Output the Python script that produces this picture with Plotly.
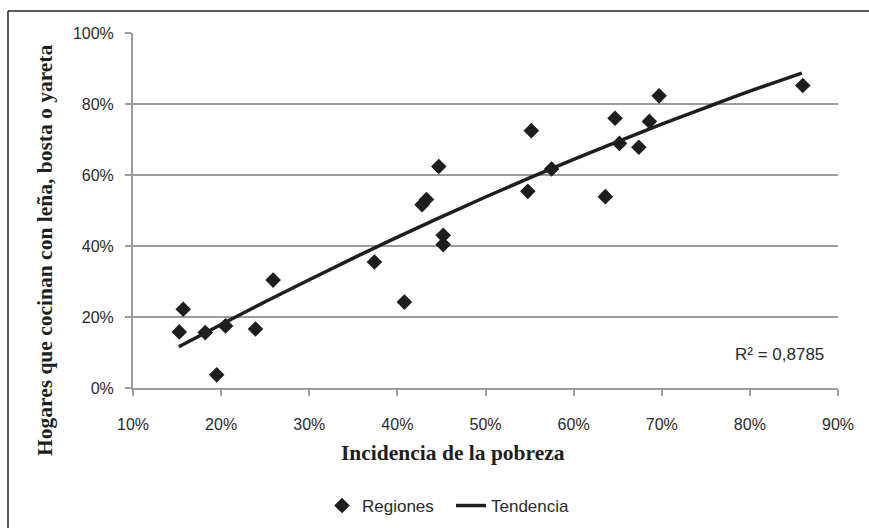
import plotly.graph_objects as go

# Data (percent)
pobreza = [15.25, 15.7, 18.2, 20.5, 19.5, 23.9, 25.9, 37.4, 40.8, 42.8, 43.3, 44.7,
           45.2, 45.2, 54.8, 55.2, 57.5, 63.6, 64.7, 65.2, 67.4, 68.6, 69.7, 86.0]
hogares = [15.8, 22.2, 15.6, 17.5, 3.7, 16.6, 30.4, 35.5, 24.2, 51.6, 53.1, 62.4,
           43.0, 40.4, 55.4, 72.5, 61.7, 53.9, 76.0, 68.9, 67.8, 75.1, 82.3, 85.2]

# Trend line
trend_x = [15.2, 20, 25, 30, 35, 40, 45, 50, 55, 60, 65, 70, 75, 80, 85.9]
trend_y = [11.6, 17.9, 24.3, 30.5, 36.6, 42.5, 48.2, 53.8, 59.2, 64.4, 69.4, 74.3, 79.0, 83.6, 88.7]

x_ticks = [10, 20, 30, 40, 50, 60, 70, 80, 90]
x_ticktext = [f"{v}%" for v in x_ticks]
y_ticks = [0, 20, 40, 60, 80, 100]
y_ticktext = [f"{v}%" for v in y_ticks]

r2_text = "R² = 0,8785"
x_title = "Incidencia de la pobreza"
y_title = "Hogares que cocinan con leña, bosta o yareta"

W, H = 869, 528
L, R, T, B = 133, 31, 33, 140
pw, ph = W - L - R, H - T - B

def px(x):
    return (x - L) / pw

def py(y):
    return (H - B - y) / ph

grid = "#9c9c9c"
ink = "#1e1e1e"
txt = "#2a2a2a"

fig = go.Figure()
fig.add_trace(go.Scatter(
    x=pobreza, y=hogares, mode="markers", name="Regiones",
    marker=dict(symbol="diamond", size=12, color=ink, line=dict(width=0)),
))
fig.add_trace(go.Scatter(
    x=trend_x, y=trend_y, mode="lines", name="Tendencia",
    line=dict(color=ink, width=3.5, shape="spline"),
))

fig.update_layout(
    width=W, height=H,
    margin=dict(l=L, r=R, t=T, b=B, autoexpand=False),
    paper_bgcolor="white", plot_bgcolor="white",
    font=dict(family="Liberation Sans, Arial, sans-serif", size=16, color=txt),
    showlegend=True,
    legend=dict(orientation="h", x=px(451), xanchor="center", y=py(506), yanchor="middle",
                font=dict(size=17, color=txt), itemwidth=30, tracegroupgap=0,
                entrywidth=84, entrywidthmode="pixels"),
    xaxis=dict(range=[10, 90], tickvals=x_ticks, ticktext=x_ticktext,
               showgrid=False, zeroline=False, showline=True, linecolor=grid, linewidth=2,
               ticks="outside", ticklen=6, tickwidth=2, tickcolor=grid,
               ticklabelstandoff=15, tickfont=dict(size=16, color=txt)),
    yaxis=dict(range=[0, 100], tickvals=y_ticks, ticktext=y_ticktext,
               showgrid=True, gridcolor=grid, gridwidth=2, zeroline=False,
               showline=True, linecolor=grid, linewidth=2,
               ticks="outside", ticklen=6, tickwidth=2, tickcolor=grid,
               ticklabelstandoff=8, tickfont=dict(size=16, color=txt)),
    annotations=[
        dict(text=r2_text, x=px(826), y=py(354), xref="paper", yref="paper",
             xanchor="right", yanchor="middle", showarrow=False,
             font=dict(size=17, color=txt)),
        dict(text=f"<b>{x_title}</b>", x=px(453), y=py(453), xref="paper", yref="paper",
             xanchor="center", yanchor="middle", showarrow=False,
             font=dict(family="Liberation Serif, Times New Roman, serif", size=21.5, color=ink)),
        dict(text=f"<b>{y_title}</b>", x=px(45), y=py(250), xref="paper", yref="paper",
             xanchor="center", yanchor="middle", showarrow=False, textangle=-90,
             font=dict(family="Liberation Serif, Times New Roman, serif", size=21.5, color=ink)),
    ],
    shapes=[
        dict(type="line", xref="paper", yref="paper", x0=px(8), x1=px(869), y0=py(11), y1=py(11),
             line=dict(color="#222222", width=1.5)),
        dict(type="line", xref="paper", yref="paper", x0=px(8), x1=px(8), y0=py(11), y1=py(528),
             line=dict(color="#222222", width=1.5)),
    ],
)

fig.write_html("out.html", config={"displayModeBar": False},
               post_script="document.body.style.margin='0';document.body.style.overflow='hidden';")
